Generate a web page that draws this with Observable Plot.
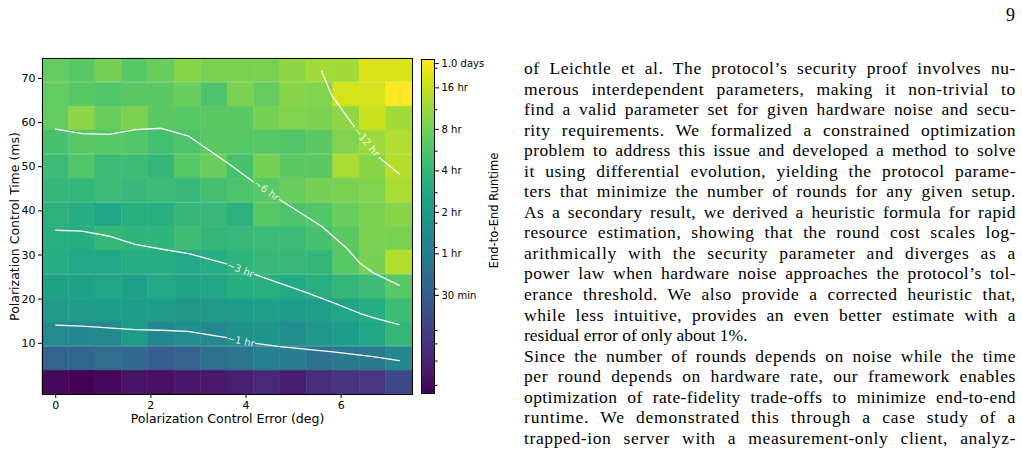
<!DOCTYPE html>
<html><head><meta charset="utf-8">
<script src="https://cdn.jsdelivr.net/npm/d3@7"></script>
<script src="https://cdn.jsdelivr.net/npm/@observablehq/plot@0.6"></script>
<style>
html,body{margin:0;padding:0;background:#fff;}
body{width:1022px;height:454px;position:relative;overflow:hidden;font-family:"DejaVu Sans",sans-serif;}
#heat{position:absolute;left:0;top:0;}
#cbar{position:absolute;left:415px;top:0;}
#text{position:absolute;left:524px;top:58px;width:492px;font-family:"Liberation Serif","DejaVu Serif",serif;font-size:17.5px;line-height:20.56px;color:#000;}
#text div{white-space:nowrap;height:20.56px;text-align:left;}
#text div.just{text-align:justify;text-align-last:justify;}
#pagenum{position:absolute;right:7px;top:6px;font-family:"Liberation Serif",serif;font-size:18px;line-height:18px;color:#000;}
</style></head><body>
<div id="heat"></div><div id="cbar"></div><div id="text"></div><div id="pagenum">9</div>
<script>
// ---- data ----
const errorDeg = [0, 0.556, 1.111, 1.667, 2.222, 2.778, 3.333, 3.889, 4.444, 5.0, 5.556, 6.111, 6.667, 7.222];
const timeMs = [1.1, 6.5, 12.0, 17.4, 22.8, 28.3, 33.7, 39.1, 44.6, 50.0, 55.5, 60.9, 66.3, 71.8]; // bottom -> top
// runtime in hours, rows listed from top (71.8 ms) to bottom (1.1 ms)
const runtimeHoursByRow = [
  [6.74,6.03,7.97,6.03,7.12,9.42,8.42, 8.42,8.42,9.96,11.8,11.8,18.4,18.4],
  [6.74,6.03,5.70,6.37,6.37,7.12,5.39, 8.42,6.74,9.42,8.91,17.4,17.4,25.7],
  [6.74,9.96,7.12,8.42,6.37,6.03,6.37, 6.37,7.97,8.91,8.42,9.96,16.5,11.8],
  [5.10,6.03,6.03,5.70,4.82,5.39,6.37, 6.03,6.03,5.70,6.37,8.91,11.1,13.2],
  [4.31,5.70,4.31,4.56,3.86,6.03,7.12, 5.10,7.97,6.37,6.37,12.4,9.42,13.9],
  [3.86,3.86,4.31,4.08,4.31,4.08,4.82, 5.39,6.03,7.12,7.97,8.42,8.91,12.4],
  [3.45,3.08,2.61,3.26,3.26,3.86,4.08, 3.45,6.03,5.39,5.70,7.12,8.42,9.42],
  [3.26,3.08,3.86,3.65,3.65,4.56,3.86, 4.08,4.31,4.31,5.10,6.37,8.42,8.42],
  [3.08,2.76,2.76,3.08,3.08,2.76,3.08, 3.65,4.08,4.08,3.86,6.03,7.97,13.2],
  [2.33,2.33,2.61,2.21,2.76,2.47,2.61, 3.08,3.26,2.76,3.26,3.86,4.31,6.03],
  [1.97,2.09,2.09,2.09,2.09,1.87,1.97, 2.09,2.21,2.09,2.21,2.61,3.08,4.56],
  [1.41,1.26,1.34,2.09,1.26,1.49,1.34, 1.58,1.77,1.49,1.87,2.09,2.61,3.86],
  [0.578,0.612,0.684,0.647,0.517,0.578,0.765, 0.855,1.07,1.01,0.765,0.904,0.904,1.26],
  [0.108,0.097,0.108,0.128,0.121,0.136,0.143, 0.160,0.179,0.152,0.200,0.224,0.237,0.331]
];
// contour lines (deg, ms); null = gap left for the inline label
const contour1hX = [0, 0.55, 1.11, 1.67, 2.22, 2.78, 3.59, null, 4.20, 4.71, 5.83, 6.67, 7.22];
const contour1hY = [14.1, 13.9, 13.5, 13.1, 12.95, 12.7, 11.3, null, 10.0, 9.24, 8.04, 7.0, 6.07];
const contour3hX = [0, 0.55, 1.11, 1.67, 2.24, 2.80, 3.59, null, 4.18, 5.29, 5.83, 6.39, 6.67, 7.22];
const contour3hY = [35.6, 35.4, 34.3, 32.4, 31.3, 30.3, 28.0, null, 25.6, 21.4, 19.2, 16.8, 15.8, 14.2];
const contour6hX = [0, 0.55, 1.12, 1.68, 2.22, 2.78, 3.63, 4.15, null, 4.71, 5.59, 6.11, 6.39, 6.67, 7.22];
const contour6hY = [58.5, 57.5, 57.3, 58.4, 58.7, 57.0, 50.7, 46.6, null, 42.5, 36.5, 31.6, 28.2, 26.0, 23.1];
const contour12hX = [5.59, 5.80, 6.27, null, 6.80, 7.22];
const contour12hY = [71.65, 66.2, 59.1, null, 52.1, 48.4];
const contourLabels = ["~1 hr", "~3 hr", "~6 hr", "~12 hr"];
const contourLabelX = [3.89, 3.88, 4.43, 6.53];
const contourLabelY = [10.5, 26.7, 44.6, 55.6];
const contourLabelAngle = [11, 21, 35, 50];

const xTicks = [0, 2, 4, 6];
const yTicks = [10, 20, 30, 40, 50, 60, 70];
const xLabel = "Polarization Control Error (deg)";
const yLabel = "Polarization Control Time (ms)";
const cbarLabel = "End-to-End Runtime";
const cbarTicks = [0.5, 1, 2, 4, 8, 16, 24]; // hours
const cbarTickLabels = ["30 min", "1 hr", "2 hr", "4 hr", "8 hr", "16 hr", "1.0 days"];
const cbarMinorSeconds = [400, 600, 800, 1000, 2000, 4000, 6000, 8000, 10000, 20000, 40000, 60000, 80000];

const textLines = [
  "of Leichtle et al.  The protocol’s security proof involves nu-",
  "merous interdependent parameters, making it non-trivial to",
  "find a valid parameter set for given hardware noise and secu-",
  "rity requirements. We formalized a constrained optimization",
  "problem to address this issue and developed a method to solve",
  "it using differential evolution, yielding the protocol parame-",
  "ters that minimize the number of rounds for any given setup.",
  "As a secondary result, we derived a heuristic formula for rapid",
  "resource estimation, showing that the round cost scales log-",
  "arithmically with the security parameter and diverges as a",
  "power law when hardware noise approaches the protocol’s tol-",
  "erance threshold. We also provide a corrected heuristic that,",
  "while less intuitive, provides an even better estimate with a",
  "residual error of only about 1%.",
  "Since the number of rounds depends on noise while the time",
  "per round depends on hardware rate, our framework enables",
  "optimization of rate-fidelity trade-offs to minimize end-to-end",
  "runtime.  We demonstrated this through a case study of a",
  "trapped-ion server with a measurement-only client, analyz-"
];
const lastLineIndex = [13];

// ---- build tables ----
const dx = errorDeg[1] - errorDeg[0];
const dy = timeMs[1] - timeMs[0];
const nRows = runtimeHoursByRow.length;
const cells = [];
runtimeHoursByRow.forEach((row, r) => {
  const yv = timeMs[nRows - 1 - r];
  row.forEach((v, c) => {
    const xv = errorDeg[c];
    cells.push({x1: xv - dx / 2, x2: xv + dx / 2, y1: yv - dy / 2, y2: yv + dy / 2, v});
  });
});
const allVals = runtimeHoursByRow.flat();
const cDomain = d3.extent(allVals);
const xDomain = [errorDeg[0] - dx / 2, errorDeg[errorDeg.length - 1] + dx / 2];
const yDomain = [timeMs[0] - dy / 2, timeMs[timeMs.length - 1] + dy / 2];
const colorOpts = {type: "log", scheme: "viridis", domain: cDomain};

function pts(xs, ys) { return xs.map((x, i) => ({x, y: ys[i]})); }
const contours = [pts(contour1hX, contour1hY), pts(contour3hX, contour3hY), pts(contour6hX, contour6hY), pts(contour12hX, contour12hY)];
const labelRows = contourLabels.map((t, i) => ({t, x: contourLabelX[i], y: contourLabelY[i], a: contourLabelAngle[i]}));

const heat = Plot.plot({
  width: 420, height: 454,
  marginLeft: 42, marginRight: 8, marginTop: 58, marginBottom: 60,
  style: {fontFamily: "DejaVu Sans", fontSize: "11px", color: "#000", background: "transparent"},
  x: {domain: xDomain},
  y: {domain: yDomain},
  color: colorOpts,
  marks: [
    Plot.rect(cells, {x1: "x1", x2: "x2", y1: "y1", y2: "y2", fill: "v", stroke: "v", strokeWidth: 0.4}),
    ...contours.map(c => Plot.line(c, {x: "x", y: "y", stroke: "white", strokeWidth: 1.3})),
    ...labelRows.map(l => Plot.text([l], {x: "x", y: "y", text: "t", rotate: l.a, fill: "white", fillOpacity: 0.85, fontSize: 10})),
    Plot.frame({stroke: "#000", strokeWidth: 1}),
    Plot.axisX({ticks: xTicks, tickSize: 4, tickPadding: 3, fontSize: 11, label: null}),
    Plot.axisY({ticks: yTicks, tickSize: 4, tickPadding: 3, fontSize: 11, label: null}),
    Plot.text([xLabel], {frameAnchor: "bottom", dy: 28.5, fontSize: 12.5, textAnchor: "middle"}),
    Plot.text([yLabel], {frameAnchor: "left", dx: -28, rotate: -90, fontSize: 12.5, textAnchor: "middle"})
  ]
});
document.getElementById("heat").appendChild(heat);

// colorbar
const nb = 300;
const ratio = cDomain[1] / cDomain[0];
const bands = d3.range(nb).map(i => ({
  y1: cDomain[0] * Math.pow(ratio, i / nb),
  y2: cDomain[0] * Math.pow(ratio, Math.min(nb, i + 2) / nb),
  v: cDomain[0] * Math.pow(ratio, (i + 0.5) / nb)
}));
const minorHours = cbarMinorSeconds.map(s => s / 3600).filter(h => h >= cDomain[0] && h <= cDomain[1] && !cbarTicks.some(t => Math.abs(t - h) / t < 0.05));
const cbar = Plot.plot({
  width: 100, height: 454,
  marginLeft: 6, marginRight: 81, marginTop: 59, marginBottom: 61,
  style: {fontFamily: "DejaVu Sans", fontSize: "10px", color: "#000", background: "transparent"},
  x: {domain: [0, 1], axis: null},
  y: {type: "log", domain: cDomain, axis: null},
  color: colorOpts,
  marks: [
    Plot.rect(bands, {x1: 0, x2: 1, y1: "y1", y2: "y2", fill: "v"}),
    Plot.frame({stroke: "#000", strokeWidth: 1}),
    Plot.axisY({anchor: "right", ticks: minorHours, tickSize: 2.5, tickFormat: () => "", label: null}),
    Plot.axisY({anchor: "right", ticks: cbarTicks, tickSize: 4, tickFormat: () => "", label: null}),
    Plot.text(cbarTicks, {y: d => d, text: (d, i) => cbarTickLabels[i], frameAnchor: "right", dx: 7, textAnchor: "start", fontSize: 10}),
    Plot.text([cbarLabel], {frameAnchor: "right", dx: 60, dy: -16, rotate: -90, fontSize: 11.5, textAnchor: "middle"})
  ]
});
document.getElementById("cbar").appendChild(cbar);

// body text, each line justified to the column width
const tdiv = document.getElementById("text");
const colW = 492;
textLines.forEach((s, i) => {
  const d = document.createElement("div");
  const sp = document.createElement("span");
  sp.textContent = s;
  d.appendChild(sp);
  tdiv.appendChild(d);
  if (!lastLineIndex.includes(i)) {
    const w = sp.getBoundingClientRect().width;
    const slack = colW - w;
    const n = s.length - 1;
    const ls = slack > 0 ? (slack * 0.45) / n : (slack - 1) / n;
    d.style.letterSpacing = ls + "px";
    d.className = "just";
  }
});
</script>
</body></html>
